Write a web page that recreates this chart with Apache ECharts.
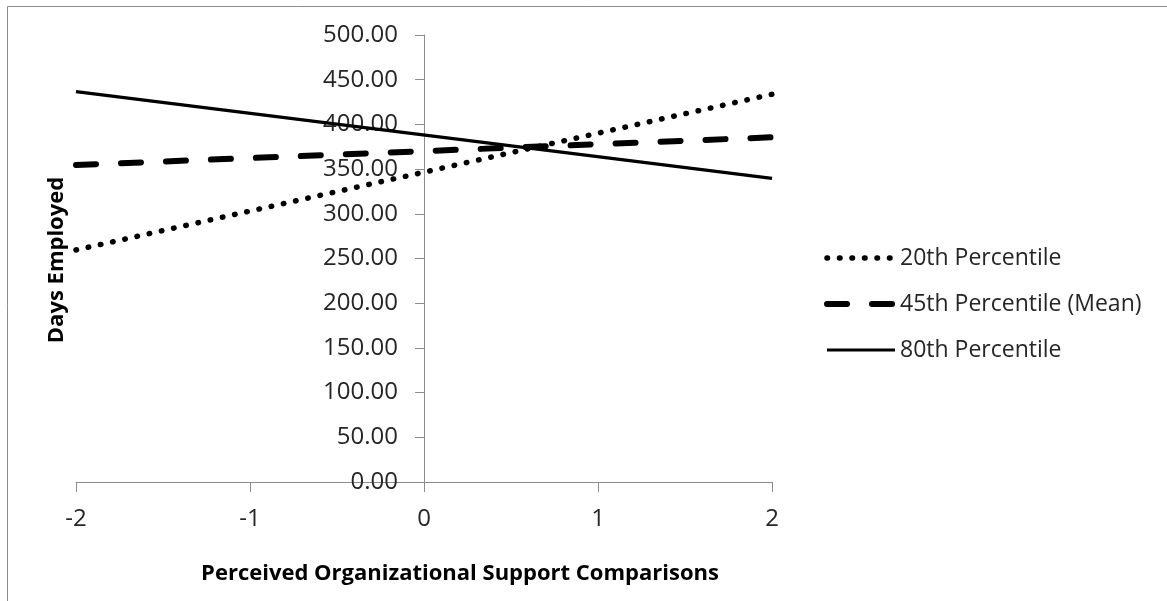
<!DOCTYPE html>
<html><head><meta charset="utf-8">
<script src="https://cdn.jsdelivr.net/npm/echarts@6/dist/echarts.min.js"></script>
<style>html,body{margin:0;padding:0;background:#fff}#c{width:1167px;height:601px}</style>
</head><body><div id="c"></div>
<script>
const xValues = [-2, 2];
const p20 = [259.5, 433.7];
const p45 = [354.6, 385.6];
const p80 = [436.6, 339.7];
const seriesNames = ['20th Percentile', '45th Percentile (Mean)', '80th Percentile'];
const xTitle = 'Perceived Organizational Support Comparisons';
const yTitle = 'Days Employed';

const FONT = 'Open Sans';
const GL = 76, GR = 772;
const styles = [
  {color: '#000', width: 5.5, type: [0.5, 12], cap: 'round'},
  {color: '#000', width: 6, type: [20, 25], cap: 'round'},
  {color: '#000', width: 3.2, type: 'solid', cap: 'butt'}
];
const chart = echarts.init(document.getElementById('c'), null, {renderer: 'canvas'});
const pts = arr => xValues.map((x, i) => [x, arr[i]]);
const values = [p20, p45, p80];

chart.setOption({
  animation: false,
  backgroundColor: '#fff',
  grid: {left: GL, right: 1167 - GR, top: 35, bottom: 119, containLabel: false, outerBoundsMode: 'none'},
  xAxis: {
    type: 'value', min: -2, max: 2, interval: 1,
    axisLine: {show: true, lineStyle: {color: '#8c8c8c', width: 1}},
    axisTick: {show: true, length: 10, lineStyle: {color: '#8c8c8c'}},
    axisLabel: {margin: 25, fontFamily: FONT, fontSize: 24, color: '#262626'},
    splitLine: {show: false},
    name: xTitle, nameLocation: 'middle', nameGap: 81,
    nameTextStyle: {fontFamily: FONT, fontWeight: 'bold', fontSize: 22, color: '#000', padding: [0, 0, 0, 72]}
  },
  yAxis: {
    type: 'value', min: 0, max: 500, interval: 50,
    offset: -(GR - GL) / 2,
    axisLine: {show: true, onZero: false, lineStyle: {color: '#8c8c8c', width: 1}},
    axisTick: {show: true, length: 9, lineStyle: {color: '#8c8c8c'}},
    axisLabel: {margin: 26, fontFamily: FONT, fontSize: 24, color: '#262626',
      formatter: v => v.toFixed(2)},
    splitLine: {show: false}
  },
  legend: {
    orient: 'vertical', left: 819, top: 241,
    itemWidth: 68, itemHeight: 24, itemGap: 22,
    itemStyle: {opacity: 0},
    textStyle: {fontFamily: FONT, fontSize: 23, color: '#262626', lineHeight: 24},
    data: seriesNames.map((n, i) => ({name: n, lineStyle: styles[i]}))
  },
  graphic: [
    {type: 'rect', shape: {x: 7.5, y: 6.5, width: 1300, height: 800}, style: {fill: 'none', stroke: '#8c8c8c', lineWidth: 1}, silent: true},
    {type: 'text', x: 57, y: 260, rotation: Math.PI / 2,
      style: {text: yTitle, align: 'center', verticalAlign: 'middle', font: 'bold 22px "' + FONT + '"', fill: '#000'}}
  ],
  series: seriesNames.map((n, i) => ({
    type: 'line', name: n, data: pts(values[i]), symbol: 'none',
    itemStyle: {color: '#000'}, lineStyle: styles[i]
  }))
});
</script></body></html>
